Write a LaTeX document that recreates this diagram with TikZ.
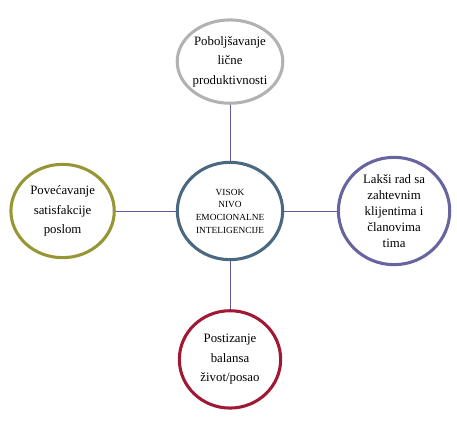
\documentclass[tikz,border=0pt]{standalone}
\usepackage{fontspec}
\setmainfont{Liberation Serif}
\usepackage{tikz}
\usetikzlibrary{shapes.geometric,positioning}
\definecolor{ringslate}{RGB}{74,104,128}
\definecolor{ringgray}{RGB}{178,178,178}
\definecolor{ringolive}{RGB}{150,150,52}
\definecolor{ringviolet}{RGB}{104,100,160}
\definecolor{ringred}{RGB}{160,24,52}
\definecolor{linkviolet}{RGB}{96,90,150}
\tikzset{
  ringnode/.style={ellipse,draw,line width=2.3pt,fill=white,
    align=center,inner sep=0pt,font=\fontsize{9.6}{14.5}\selectfont},
  hubnode/.style={ringnode,draw=ringslate,
    font=\fontsize{7}{9.5}\selectfont,minimum width=79pt,minimum height=73pt},
  link/.style={draw=linkviolet,line width=0.7pt}
}
\begin{document}
\begin{tikzpicture}[x=0.75pt,y=-0.75pt]
  \useasboundingbox (0,0) rectangle (457,423);
  % hub
  \node[hubnode] (hub) at (230,211) {VISOK\\NIVO\\EMOCIONALNE\\INTELIGENCIJE};
  % outer rings
  \node[ringnode,draw=ringgray,minimum width=78pt,minimum height=62.5pt,
    above=42pt of hub] (prod) {Poboljšavanje\\lične\\produktivnosti};
  \node[ringnode,draw=ringolive,minimum width=77.5pt,minimum height=70pt,
    left=45pt of hub] (sat) {Povećavanje\\satisfakcije\\poslom};
  \node[ringnode,draw=ringviolet,minimum width=83.5pt,minimum height=80.5pt,
    font=\fontsize{9.6}{12}\selectfont,
    right=39.5pt of hub] (tim) {Lakši rad sa\\zahtevnim\\klijentima i\\članovima\\tima};
  \node[ringnode,draw=ringred,minimum width=76pt,minimum height=73pt,
    below=36pt of hub] (bal) {Postizanje\\balansa\\život/posao};

  % connectors
  \foreach \n in {prod,sat,tim,bal}
    \draw[link] (hub) -- (\n);
\end{tikzpicture}
\end{document}
